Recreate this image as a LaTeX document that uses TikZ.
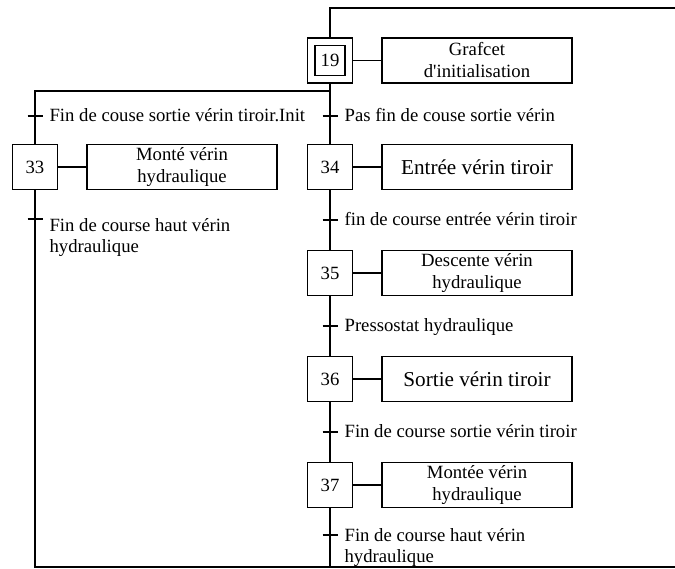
\documentclass[tikz,border=0pt]{standalone}
\usepackage{fontspec}
\setmainfont{Liberation Serif}
\usetikzlibrary{positioning}

\begin{document}
\begin{tikzpicture}[x=0.5pt,y=-0.5pt,line width=0.6pt,
  font=\fontsize{9.35}{11}\selectfont]
% ---- styles ----
\tikzstyle{stepbox}=[draw,minimum width=22.5pt,minimum height=22.5pt,inner sep=0pt]
\tikzstyle{initbox}=[draw,minimum width=15pt,minimum height=15pt,inner sep=0pt]
\tikzstyle{actbox}=[draw,align=center,minimum width=95pt,minimum height=22.5pt,
  inner sep=1pt]
\tikzstyle{cond}=[anchor=base west,align=left,inner sep=0pt,
  font=\fontsize{9.35}{10.5}\selectfont,xshift=7pt,yshift=-2.75pt]
\tikzstyle{bigtxt}=[font=\fontsize{10.6}{12}\selectfont]

\useasboundingbox (0,0) rectangle (675,568);

% ---- frame points ----
\coordinate (top) at (330,8);
\coordinate (topR) at (675,8);
\coordinate (divL) at (35,91);
\coordinate (divR) at (330,91);
\coordinate (botL) at (35,567);
\coordinate (botM) at (330,567);
\coordinate (botR) at (675,567);

% ---- steps ----
\node[stepbox] (s19) at (330,60.5) {};
\node[initbox] (s19i) at (s19) {19};
\node[stepbox] (s33) at (35,167) {33};
\node[stepbox] (s34) at (330,167) {34};
\node[stepbox] (s35) at (330,273) {35};
\node[stepbox] (s36) at (330,379) {36};
\node[stepbox] (s37) at (330,485) {37};

% ---- actions ----
\node[actbox] (a19) at (477,60.5) {Grafcet\\d\textquotesingle initialisation};
\node[actbox] (a33) at (182,167) {Monté vérin\\hydraulique};
\node[actbox,bigtxt] (a34) at (477,167) {Entrée vérin tiroir};
\node[actbox] (a35) at (477,273) {Descente vérin\\hydraulique};
\node[actbox,bigtxt] (a36) at (477,379) {Sortie vérin tiroir};
\node[actbox] (a37) at (477,485) {Montée vérin\\hydraulique};

% ---- transitions ----
\coordinate (t1) at (35,116);
\coordinate (t2) at (330,116);
\coordinate (t3) at (35,219);
\coordinate (t4) at (330,220);
\coordinate (t5) at (330,326);
\coordinate (t6) at (330,432);
\coordinate (t7) at (330,535);

\node[cond] (c1) at (t1) {Fin de couse sortie vérin tiroir.Init};
\node[cond] (c2) at (t2) {Pas fin de couse sortie vérin};
\node[cond,yshift=-14pt] (c3) at (t3) {Fin de course haut vérin\\hydraulique};
\node[cond] (c4) at (t4) {fin de course entrée vérin tiroir};
\node[cond] (c5) at (t5) {Pressostat hydraulique};
\node[cond] (c6) at (t6) {Fin de course sortie vérin tiroir};
\node[cond,yshift=-11pt] (c7) at (t7) {Fin de course haut vérin\\hydraulique};

\foreach \t in {t1,t2,t3,t4,t5,t6,t7}
  \draw ([xshift=-3.75pt]\t) -- ([xshift=3.75pt]\t);

% ---- links ----
\draw (topR) -- (top) -- (s19.north);
\draw (s19.south) -- (s34.north);
\draw (divR) -- (divL) -- (s33.north);
\draw (s33.south) -- (botL) -- (botR);
\draw (s34.south) -- (s35.north);
\draw (s35.south) -- (s36.north);
\draw (s36.south) -- (s37.north);
\draw (s37.south) -- (botM);

\foreach \n in {19,33,34,35,36,37}
  \draw (s\n.east) -- (a\n.west);

\end{tikzpicture}
\end{document}
